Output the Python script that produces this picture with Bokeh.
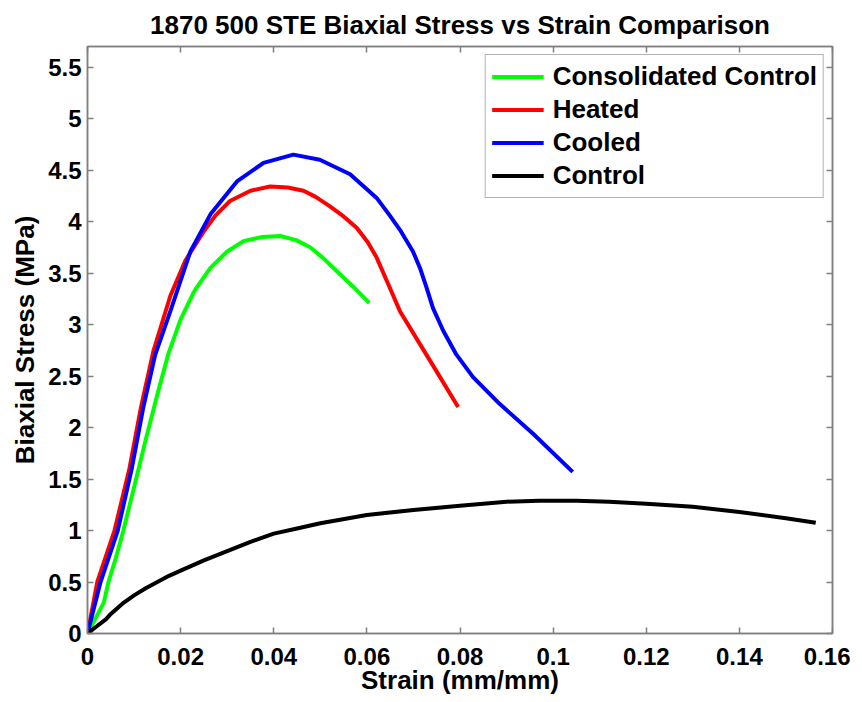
from bokeh.plotting import figure
from bokeh.models import Range1d, LinearAxis, FixedTicker, Legend, LegendItem, CustomJSTickFormatter
from bokeh.embed import file_html
from bokeh.resources import INLINE

# Consolidated Control (green)
cons_x = [0, 0.0035, 0.0045, 0.006, 0.0077, 0.01, 0.0125, 0.015, 0.0174, 0.02, 0.023, 0.0264, 0.030,
          0.0335, 0.0375, 0.0414, 0.0448, 0.0478, 0.0505, 0.0535, 0.057, 0.0605]
cons_y = [0, 0.30, 0.50, 0.72, 1.00, 1.42, 1.88, 2.32, 2.72, 3.05, 3.33, 3.55, 3.71,
          3.81, 3.85, 3.86, 3.82, 3.75, 3.65, 3.52, 3.37, 3.21]

# Heated (red)
heat_x = [0, 0.0021, 0.0058, 0.009, 0.0115, 0.0142, 0.0178, 0.021, 0.0249, 0.0275, 0.0306, 0.035,
          0.0392, 0.043, 0.0464, 0.049, 0.052, 0.055, 0.0578, 0.0602, 0.0621, 0.0649, 0.0671,
          0.0714, 0.0749, 0.0796]
heat_y = [0, 0.50, 1.00, 1.60, 2.20, 2.75, 3.28, 3.62, 3.90, 4.06, 4.20, 4.30,
          4.34, 4.33, 4.30, 4.24, 4.15, 4.05, 3.94, 3.80, 3.65, 3.36, 3.13,
          2.81, 2.55, 2.20]

# Cooled (blue)
cool_x = [0, 0.0028, 0.0065, 0.0095, 0.012, 0.0145, 0.0178, 0.0221, 0.0264, 0.0321, 0.0378, 0.0442,
          0.0499, 0.0564, 0.0621, 0.0649, 0.0671, 0.0699, 0.0714, 0.0728, 0.0742, 0.0764, 0.0792,
          0.0828, 0.0885, 0.0957, 0.1042]
cool_y = [0, 0.50, 1.00, 1.60, 2.20, 2.70, 3.13, 3.71, 4.07, 4.39, 4.57, 4.65,
          4.60, 4.46, 4.23, 4.06, 3.92, 3.71, 3.55, 3.36, 3.16, 2.94, 2.71,
          2.49, 2.23, 1.94, 1.57]

# Control (black)
ctrl_x = [0, 0.002, 0.004, 0.005, 0.0075, 0.01, 0.0125, 0.015, 0.0175, 0.02, 0.025, 0.03, 0.035,
          0.04, 0.045, 0.05, 0.06, 0.07, 0.08, 0.09, 0.097, 0.105, 0.112, 0.12, 0.13, 0.14,
          0.15, 0.1564]
ctrl_y = [0, 0.07, 0.14, 0.19, 0.29, 0.37, 0.44, 0.50, 0.56, 0.61, 0.71, 0.80, 0.89,
          0.97, 1.02, 1.07, 1.15, 1.20, 1.24, 1.28, 1.29, 1.29, 1.28, 1.26, 1.23, 1.18,
          1.12, 1.075]

x_ticks = [0, 0.02, 0.04, 0.06, 0.08, 0.1, 0.12, 0.14, 0.16]
y_ticks = [0, 0.5, 1, 1.5, 2, 2.5, 3, 3.5, 4, 4.5, 5, 5.5]
title_text = "1870 500 STE Biaxial Stress vs Strain Comparison"

FONT = "Liberation Sans"
GRAY = "#808080"

p = figure(width=850, height=702, output_backend="svg", toolbar_location=None,
           x_range=Range1d(0, 0.16), y_range=Range1d(0, 5.7),
           min_border_left=87, min_border_right=18, min_border_top=0, min_border_bottom=69)

p.title.text = title_text
p.title.align = "center"
p.title.text_font = FONT
p.title.text_font_style = "bold"
p.title.text_font_size = "26px"
p.title.text_color = "black"
p.title.standoff = 14

p.xgrid.visible = False
p.ygrid.visible = False
p.outline_line_color = GRAY
p.outline_line_width = 1.5
p.background_fill_color = "white"
p.border_fill_color = "white"

fmt = CustomJSTickFormatter(code="return String(tick);")

for ax, ticks in ((p.xaxis[0], x_ticks), (p.yaxis[0], y_ticks)):
    ax.ticker = FixedTicker(ticks=ticks)
    ax.formatter = fmt
    ax.major_tick_in = 6
    ax.major_tick_out = 0
    ax.minor_tick_line_color = None
    ax.axis_line_color = GRAY
    ax.axis_line_width = 1.5
    ax.major_tick_line_color = GRAY
    ax.major_tick_line_width = 1.5
    ax.major_label_text_font = FONT
    ax.major_label_text_font_style = "bold"
    ax.major_label_text_font_size = "24px"
    ax.major_label_text_color = "black"
    ax.axis_label_text_font = FONT
    ax.axis_label_text_font_style = "bold"
    ax.axis_label_text_font_size = "26px"
    ax.axis_label_text_color = "black"

p.xaxis[0].axis_label = "Strain (mm/mm)"
p.yaxis[0].axis_label = "Biaxial Stress (MPa)"
p.xaxis[0].major_label_standoff = 14
p.xaxis[0].axis_label_standoff = -3
p.yaxis[0].major_label_standoff = 6
p.yaxis[0].axis_label_standoff = 5

for side, ticks in (("above", x_ticks), ("right", y_ticks)):
    ax = LinearAxis(ticker=FixedTicker(ticks=ticks), major_label_text_font_size="0px",
                    major_label_standoff=0, major_tick_in=6, major_tick_out=0,
                    minor_tick_line_color=None, axis_line_color=GRAY, axis_line_width=1.5,
                    major_tick_line_color=GRAY, major_tick_line_width=1.5)
    p.add_layout(ax, side)

r1 = p.line(cons_x, cons_y, line_color="#00ff00", line_width=4, line_join="round")
r2 = p.line(heat_x, heat_y, line_color="#ff0000", line_width=4, line_join="round")
r3 = p.line(cool_x, cool_y, line_color="#0000ff", line_width=4, line_join="round")
r4 = p.line(ctrl_x, ctrl_y, line_color="black", line_width=4, line_join="round")

legend = Legend(items=[
    LegendItem(label="Consolidated Control", renderers=[r1]),
    LegendItem(label="Heated", renderers=[r2]),
    LegendItem(label="Cooled", renderers=[r3]),
    LegendItem(label="Control", renderers=[r4]),
], location="top_right")
legend.label_text_font = FONT
legend.label_text_font_style = "bold"
legend.label_text_font_size = "26px"
legend.label_text_color = "black"
legend.glyph_width = 52
legend.glyph_height = 25
legend.label_height = 25
legend.spacing = 2
legend.padding = 6
legend.margin = 8
legend.label_standoff = 9
legend.border_line_color = "#666666"
legend.border_line_width = 1
legend.background_fill_color = "white"
legend.background_fill_alpha = 1
p.add_layout(legend)

open("out.html", "w").write(file_html(p, INLINE))
